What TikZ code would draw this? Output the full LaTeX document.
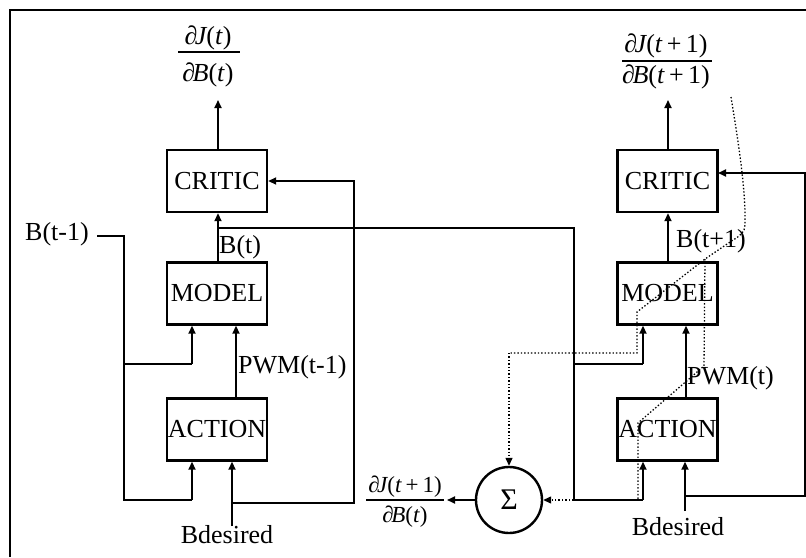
\documentclass[tikz,border=0pt]{standalone}
\usepackage{fontspec}
\setmainfont{Liberation Serif}
\usetikzlibrary{arrows.meta}
\tikzset{
  box/.style={draw,line width=2.4pt,minimum width=100pt,minimum height=62pt,inner sep=0pt,font=\fontsize{26}{28}\selectfont},
  lbl/.style={font=\fontsize{26}{28}\selectfont,inner sep=0pt},
  conn/.style={line width=1.8pt},
  arr/.style={conn,-{Triangle[length=8pt,width=7pt]}},
  dotl/.style={line width=1.3pt,dash pattern=on 1.4pt off 2pt},
  darr/.style={dotl,-{Triangle[length=8pt,width=7pt]}},
  frbig/.style={font=\fontsize{26}{28}\selectfont,inner sep=0pt},
  frsmall/.style={font=\fontsize{23}{25}\selectfont,inner sep=0pt},
  frbar/.style={line width=1.2pt},
  frame/.style={line width=2.2pt},
  sumc/.style={draw,circle,line width=2.4pt,minimum size=66pt,inner sep=0pt,font=\fontsize{30}{32}\selectfont},
}
\newcommand{\dJ}{{\itshape ∂\kern-2.5pt J}}
\newcommand{\dB}{{\itshape ∂\kern-2.5pt B}}
\newcommand{\ti}{\textit{t}}
\begin{document}
\begin{tikzpicture}[x=1pt,y=-1pt]
\useasboundingbox (0,0) rectangle (806,557);
% frame
\coordinate (fr1) at (10,557);
\coordinate (fr2) at (10,10);
\coordinate (fr3) at (806,10);
\draw[frame] (fr1) -- (fr2) -- (fr3);

% left chain
\node[box] (critL) at (217,181) {CRITIC};
\node[box] (modL) at (217,293.5) {MODEL};
\node[box] (actL) at (217,429.5) {ACTION};
% right chain
\node[box] (critR) at (667.5,181) {CRITIC};
\node[box] (modR) at (667.5,293.5) {MODEL};
\node[box] (actR) at (667.5,429.5) {ACTION};

% sum
\node[sumc] (sum) at (509,500) {Σ};

% fractions
\node[frbig,anchor=south] (fLn) at (208,50) {\dJ(\ti)};
\node[frbig,anchor=north] (fLd) at (208,63) {\dB(\ti)};
\coordinate (bL1) at (178,52); \coordinate (bL2) at (240,52);
\draw[frbar] (bL1) -- (bL2);

\node[frbig,anchor=south] (fRn) at (666,58) {\dJ(\ti\,+\,1)};
\node[frbig,anchor=north] (fRd) at (666,65) {\dB(\ti\,+\,1)};
\coordinate (bR1) at (622,61); \coordinate (bR2) at (712,61);
\draw[frbar] (bR1) -- (bR2);

\node[frsmall,anchor=south] (fSn) at (405,498) {\dJ(\ti\,+\,1)};
\node[frsmall,anchor=north] (fSd) at (405,506) {\dB(\ti)};
\coordinate (bS1) at (366,500); \coordinate (bS2) at (444,500);
\draw[frbar] (bS1) -- (bS2);

% labels
\node[lbl,anchor=west] (bt1) at (25,234) {B(t-1)};
\node[lbl,anchor=west] (btL) at (219,247) {B(t)};
\node[lbl,anchor=west] (pwmL) at (238,367) {PWM(t-1)};
\node[lbl] (bdL) at (227,535) {Bdesired};
\node[lbl,anchor=west] (btR) at (676,241) {B(t+1)};
\node[lbl,anchor=west] (pwmR) at (687,378) {PWM(t)};
\node[lbl] (bdR) at (678,527) {Bdesired};

% left connectors
\draw[arr] (critL.north -| 218,0) -- (218,100);
\draw[arr] (modL.north -| 218,0) -- (critL.south -| 218,0);
\draw[arr] (actL.north -| 236,0) -- (modL.south -| 236,0);
\coordinate (b1a) at (97,236);
\coordinate (b1b) at (124,236);
\coordinate (b1c) at (124,500);
\coordinate (b1d) at (192,500);
\coordinate (b1e) at (124,364);
\coordinate (b1f) at (192,364);
\draw[conn] (b1a) -- (b1b) -- (b1c) -- (b1d);
\draw[arr] (b1d) -- (actL.south -| b1d);
\draw[conn] (b1e) -- (b1f);
\draw[arr] (b1f) -- (modL.south -| b1f);
\coordinate (bdLt) at (232,526);
\coordinate (bdLj) at (232,503);
\coordinate (fbL1) at (354,503);
\coordinate (fbL2) at (354,181);
\draw[arr] (bdLt) -- (actL.south -| bdLt);
\draw[arr] (bdLj) -- (fbL1) -- (fbL2) -- (critL.east);

% cross connection B(t) to right
\coordinate (xa) at (218,228);
\coordinate (xb) at (574,228);
\coordinate (xc) at (574,500);
\coordinate (xd) at (643,500);
\coordinate (xe) at (574,364);
\coordinate (xf) at (643,364);
\draw[conn] (xa) -- (xb) -- (xc) -- (xd);
\draw[arr] (xd) -- (actR.south -| xd);
\draw[conn] (xe) -- (xf);
\draw[arr] (xf) -- (modR.south -| xf);

% right connectors
\draw[arr] (critR.north -| 668,0) -- (668,100);
\draw[arr] (modR.north -| 668,0) -- (critR.south -| 668,0);
\draw[arr] (actR.north -| 686,0) -- (modR.south -| 686,0);
\coordinate (bdRt) at (685,511);
\coordinate (bdRj) at (685,496);
\coordinate (fbR1) at (805,496);
\coordinate (fbR2) at (805,173);
\coordinate (fbR3) at (718,173);
\draw[arr] (bdRt) -- (actR.south -| bdRt);
\draw[arr] (bdRj) -- (fbR1) -- (fbR2) -- (fbR3);

% sum output
\coordinate (sout) at (447,500);
\draw[arr] (sum.west) -- (sout);

% dotted backprop paths
\coordinate (d0) at (731,97);
\coordinate (d1) at (745,225);
\coordinate (d2) at (733,240);
\coordinate (d3) at (705,259);
\coordinate (d4) at (637,312);
\coordinate (d5) at (637,353);
\coordinate (d6) at (509,353);
\draw[dotl] (d0) .. controls (738,140) and (746,190) .. (d1) .. controls (745,232) and (740,236) .. (d2) -- (d3) -- (d4) -- (d5) -- (d6);
\draw[darr] (d6) -- (sum.north);
\coordinate (e1) at (704,366);
\coordinate (e2) at (638,423);
\coordinate (e3) at (638,500);
\draw[dotl] (d3) -- (e1) -- (e2) -- (e3);
\draw[darr] (e3) -- (sum.east);
\end{tikzpicture}
\end{document}
